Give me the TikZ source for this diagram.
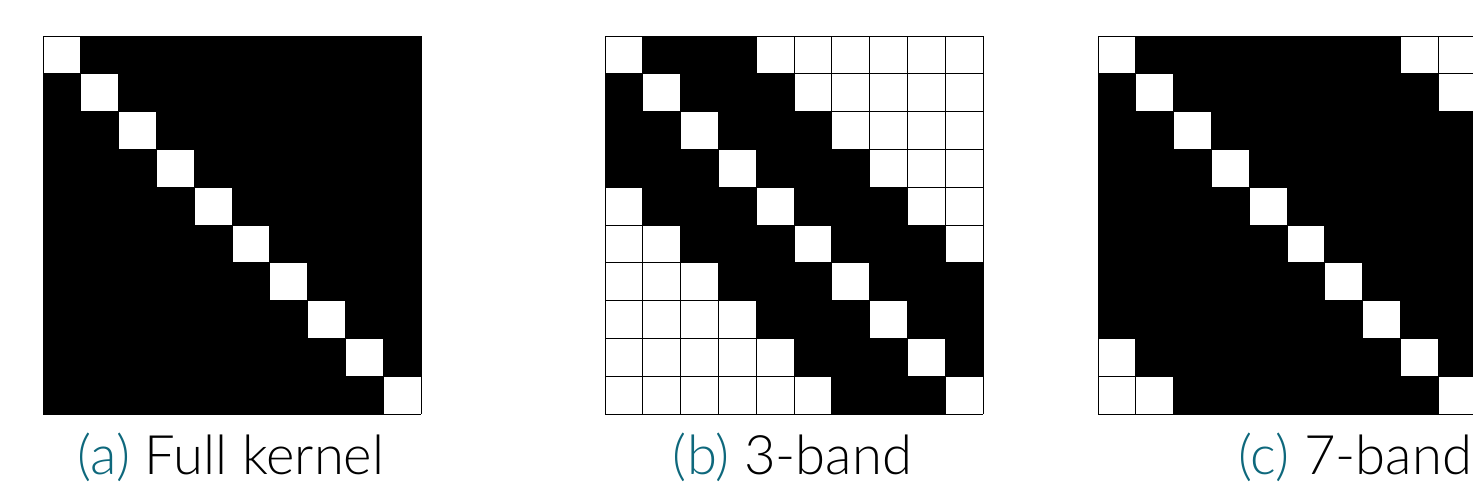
\documentclass[tikz,border=0pt]{standalone}
\usepackage{fontspec}
\setmainfont{Lato Light}
\usepackage{xcolor}
\definecolor{capteal}{RGB}{14,104,124}
\tikzset{
  cellfill/.style={fill=black},
  gridline/.style={draw=black, line width=1pt},
  caption/.style={inner sep=0pt, font=\fontsize{54.4}{64}\selectfont}
}

\begin{document}
\begin{tikzpicture}[x=1pt, y=-1pt]
\useasboundingbox (0,0) rectangle (1473,491);
% three 10x10 kernels: offset / band width
\foreach \ox/\band in {43/9, 605/3, 1098/7} {
  \begin{scope}[shift={(\ox,36)}]
    \foreach \r in {0,...,9} {
      \foreach \c in {0,...,9} {
        \pgfmathtruncatemacro\dist{abs(\r-\c)}
        \ifnum\dist>0 \ifnum\dist<\numexpr\band+1\relax
          \fill[cellfill] (\c*37.8,\r*37.8) rectangle +(37.8,37.8);
        \fi\fi
      }
    }
    \foreach \k in {0,...,10} {
      \draw[gridline] (\k*37.8,0) -- (\k*37.8,378);
      \draw[gridline] (0,\k*37.8) -- (378,\k*37.8);
    }
  \end{scope}
}
\node[caption, anchor=base] (capA) at (231,474) {\textcolor{capteal}{(a)} Full kernel};
\node[caption, anchor=base] (capB) at (792.5,474) {\textcolor{capteal}{(b)} 3-band};
\node[caption, anchor=base west] (capC) at (1238,474) {\textcolor{capteal}{(c)} 7-band};
\end{tikzpicture}
\end{document}
